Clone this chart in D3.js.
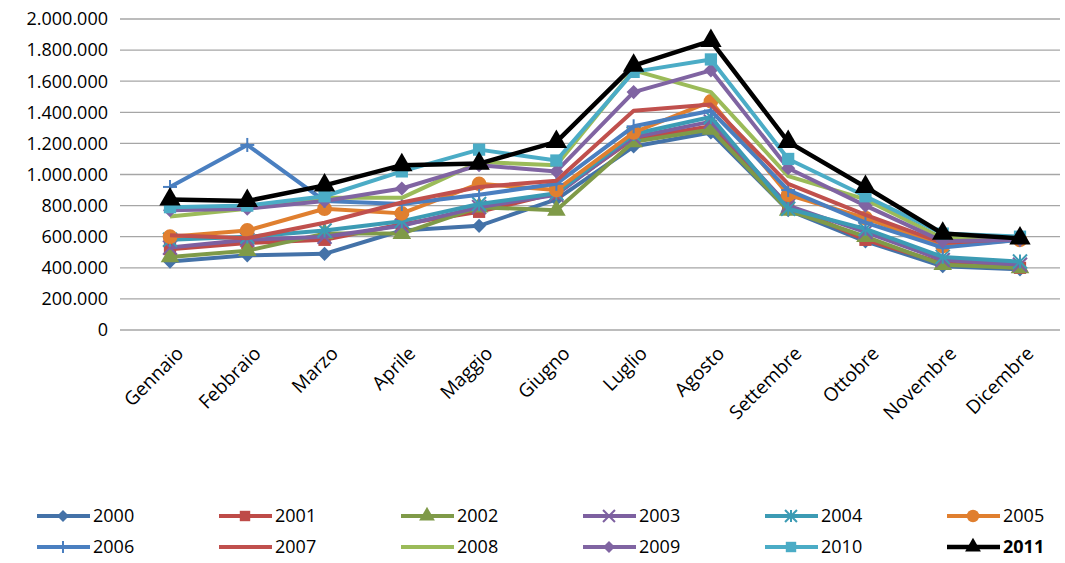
<!DOCTYPE html>
<html><head><meta charset="utf-8">
<script src="https://cdn.jsdelivr.net/npm/d3@7"></script>
<style>body{margin:0;background:#fff}text{font-family:"Open Sans",sans-serif}</style>
</head><body><svg id="c" width="1065" height="563"></svg>
<script>
const months = ["Gennaio","Febbraio","Marzo","Aprile","Maggio","Giugno","Luglio","Agosto","Settembre","Ottobre","Novembre","Dicembre"];
const years = ["2000","2001","2002","2003","2004","2005","2006","2007","2008","2009","2010","2011"];
const colors = ["#4472a8","#be4b48","#7f9a48","#7d60a0","#3c9bb4","#e07f2f","#4a7fc0","#c0504d","#9bbb59","#8064a2","#4bacc6","#000000"];
const symbols = ["diamond","square","triangle","x","star","circle","plus","none","none","diamond","square","triangle"];
const values = [
  [440,480,490,640,670,840,1180,1270,770,570,410,390],
  [520,560,580,680,760,880,1230,1310,800,580,430,400],
  [470,510,620,620,790,770,1210,1290,770,600,420,400],
  [530,580,600,670,790,870,1240,1340,800,630,450,420],
  [580,600,640,700,810,880,1260,1370,780,650,470,440],
  [600,640,780,750,940,900,1270,1470,870,720,540,580],
  [920,1190,830,810,870,940,1310,1410,900,690,530,580],
  [610,590,690,820,920,960,1410,1450,940,740,560,590],
  [730,780,850,850,1080,1060,1670,1530,990,840,590,590],
  [770,780,830,910,1060,1020,1530,1670,1040,800,570,580],
  [790,800,860,1020,1160,1090,1660,1740,1100,860,620,600],
  [840,830,930,1060,1070,1210,1700,1860,1210,920,620,590]
];
const yTicks = d3.range(0, 2000001, 200000);

const svg = d3.select("#c");
const x = d3.scalePoint().domain(months).range([170, 1020]);
const y = d3.scaleLinear().domain([0, 2000000]).range([330, 19]);
const fmt = v => v === 0 ? "0" : d3.format(",")(v).replace(/,/g, ".");

svg.append("g").selectAll("line").data(yTicks).join("line")
  .attr("x1", 120).attr("x2", 1060).attr("y1", d => y(d)).attr("y2", d => y(d))
  .attr("stroke", "#a6a6a6").attr("stroke-width", 1.3);
svg.append("g").selectAll("text").data(yTicks).join("text")
  .attr("x", 108).attr("y", d => y(d)).attr("dy", "0.35em").attr("text-anchor", "end")
  .attr("font-size", 18).attr("fill", "#000").text(fmt);
svg.append("g").selectAll("text").data(months).join("text")
  .attr("transform", d => `translate(${x(d) + 10},${350}) rotate(-45)`)
  .attr("text-anchor", "end").attr("dy", "0.35em").attr("font-size", 19).text(d => d);

function marker(g, sym, c, cx, cy, s) {
  s = s || 1;
  if (sym === "none") return;
  if (sym === "x" || sym === "star" || sym === "plus") {
    const r = 7 * s, p = [];
    if (sym !== "plus") p.push([-r,-r,r,r],[-r,r,r,-r]);
    if (sym !== "x") p.push([0,-r,0,r]);
    if (sym === "plus") p.push([-r,0,r,0]);
    p.forEach(q => g.append("line").attr("x1", cx+q[0]).attr("y1", cy+q[1]).attr("x2", cx+q[2]).attr("y2", cy+q[3]).attr("stroke", c).attr("stroke-width", 2));
    return;
  }
  if (sym === "diamond") {
    g.append("path").attr("d", d3.symbol(d3.symbolSquare, 100 * s * s)())
      .attr("transform", `translate(${cx},${cy}) rotate(45)`).attr("fill", c);
    return;
  }
  const t = {square: d3.symbolSquare, triangle: d3.symbolTriangle, circle: d3.symbolCircle}[sym];
  const size = {square: 150, triangle: 150, circle: 170}[sym] * s * s;
  g.append("path").attr("d", d3.symbol(t, size)()).attr("transform", `translate(${cx},${cy})`).attr("fill", c);
}

const line = d3.line().x((d, i) => x(months[i])).y(d => y(d * 1000));
years.forEach((yr, k) => {
  const g = svg.append("g");
  g.append("path").datum(values[k]).attr("d", line).attr("fill", "none")
    .attr("stroke", colors[k]).attr("stroke-width", k === 11 ? 4.5 : 4).attr("stroke-linejoin", "round");
  values[k].forEach((v, i) => marker(g, symbols[k], colors[k], x(months[i]), y(v * 1000), k === 11 ? 1.15 : 1));
});

const leg = svg.append("g");
years.forEach((yr, k) => {
  const lx = 37 + (k % 6) * 182, ly = 516 + Math.floor(k / 6) * 31;
  leg.append("line").attr("x1", lx).attr("x2", lx + 53).attr("y1", ly).attr("y2", ly)
    .attr("stroke", colors[k]).attr("stroke-width", k === 11 ? 4.5 : 4);
  marker(leg, symbols[k], colors[k], lx + 26, ly, 0.85);
  leg.append("text").attr("x", lx + 56).attr("y", ly).attr("dy", "0.35em").attr("font-size", 18)
    .attr("font-weight", k === 11 ? "bold" : "normal").text(yr);
});
</script></body></html>
